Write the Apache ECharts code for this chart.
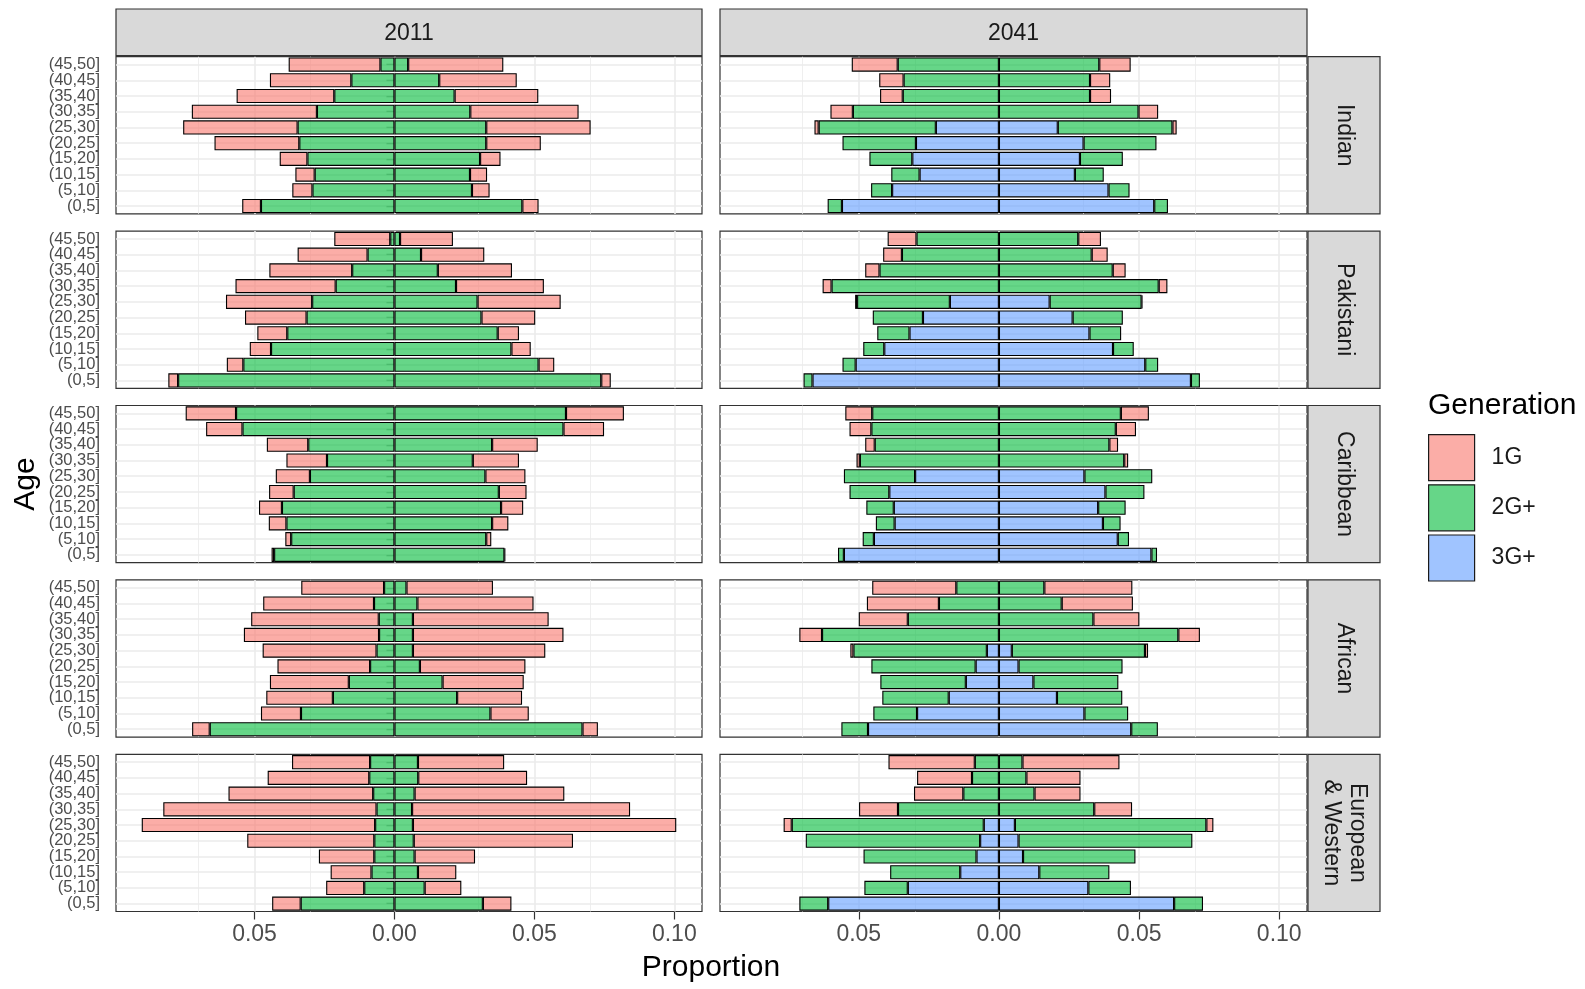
<!DOCTYPE html>
<html>
<head>
<meta charset="utf-8">
<script src="https://cdn.jsdelivr.net/npm/echarts@6/dist/echarts.min.js"></script>
<style>
  html, body { margin: 0; padding: 0; background: #ffffff; }
  #chart { width: 1585px; height: 989px; }
</style>
</head>
<body>
<div id="chart"></div>
<script>
// ---- categories ----
const ages = ['(0,5]', '(5,10]', '(10,15]', '(15,20]', '(20,25]', '(25,30]', '(30,35]', '(35,40]', '(40,45]', '(45,50]'];
const years = ['2011', '2041'];
const groups = ['Indian', 'Pakistani', 'Caribbean', 'African', 'European\n& Western'];
const generations = ['1G', '2G+', '3G+'];
const xTickValues = [-0.05, 0, 0.05, 0.10];
const xGridValues = [-0.075, -0.05, -0.025, 0, 0.025, 0.05, 0.075, 0.10];

// ---- proportions per age band, youngest first; L = left half, R = right half ----
// Indian
const ind11_1G_L  = [0.0067, 0.0072, 0.0069, 0.0099, 0.0303, 0.0409, 0.0447, 0.0349, 0.0291, 0.0328];
const ind11_2G_L  = [0.0477, 0.0293, 0.0285, 0.0311, 0.0340, 0.0346, 0.0277, 0.0215, 0.0154, 0.0050];
const ind11_2G_R  = [0.0457, 0.0277, 0.0270, 0.0306, 0.0328, 0.0328, 0.0271, 0.0215, 0.0160, 0.0049];
const ind11_1G_R  = [0.0058, 0.0063, 0.0061, 0.0073, 0.0195, 0.0373, 0.0387, 0.0299, 0.0277, 0.0340];
const ind41_1G_L  = [0, 0, 0, 0, 0, 0.0015, 0.0080, 0.0081, 0.0087, 0.0164];
const ind41_2G_L  = [0.0051, 0.0075, 0.0101, 0.0153, 0.0262, 0.0418, 0.0521, 0.0343, 0.0340, 0.0361];
const ind41_3G_L  = [0.0560, 0.0381, 0.0283, 0.0309, 0.0296, 0.0225, 0, 0, 0, 0];
const ind41_3G_R  = [0.0554, 0.0391, 0.0271, 0.0289, 0.0302, 0.0210, 0, 0, 0, 0];
const ind41_2G_R  = [0.0049, 0.0075, 0.0103, 0.0153, 0.0260, 0.0409, 0.0498, 0.0325, 0.0325, 0.0358];
const ind41_1G_R  = [0, 0, 0, 0, 0, 0.0015, 0.0070, 0.0075, 0.0072, 0.0112];
// Pakistani
const pak11_1G_L  = [0.0035, 0.0059, 0.0076, 0.0107, 0.0220, 0.0308, 0.0358, 0.0296, 0.0250, 0.0200];
const pak11_2G_L  = [0.0773, 0.0540, 0.0441, 0.0383, 0.0314, 0.0294, 0.0210, 0.0151, 0.0096, 0.0015];
const pak11_2G_R  = [0.0739, 0.0515, 0.0418, 0.0369, 0.0311, 0.0297, 0.0220, 0.0155, 0.0095, 0.0020];
const pak11_1G_R  = [0.0034, 0.0056, 0.0069, 0.0076, 0.0192, 0.0297, 0.0314, 0.0265, 0.0226, 0.0189];
const pak41_1G_L  = [0, 0, 0, 0, 0, 0.0007, 0.0032, 0.0051, 0.0067, 0.0103];
const pak41_2G_L  = [0.0032, 0.0047, 0.0075, 0.0115, 0.0179, 0.0331, 0.0597, 0.0426, 0.0346, 0.0294];
const pak41_3G_L  = [0.0665, 0.0511, 0.0409, 0.0319, 0.0271, 0.0175, 0, 0, 0, 0];
const pak41_3G_R  = [0.0685, 0.0522, 0.0407, 0.0323, 0.0263, 0.0181, 0, 0, 0, 0];
const pak41_2G_R  = [0.0032, 0.0046, 0.0074, 0.0113, 0.0179, 0.0328, 0.0570, 0.0406, 0.0331, 0.0283];
const pak41_1G_R  = [0, 0, 0, 0, 0, 0.0003, 0.0031, 0.0046, 0.0057, 0.0081];
// Caribbean
const car11_1G_L  = [0.0009, 0.0021, 0.0063, 0.0082, 0.0088, 0.0122, 0.0145, 0.0148, 0.0130, 0.0180];
const car11_2G_L  = [0.0430, 0.0369, 0.0386, 0.0402, 0.0360, 0.0302, 0.0241, 0.0308, 0.0543, 0.0566];
const car11_2G_R  = [0.0393, 0.0328, 0.0349, 0.0381, 0.0373, 0.0325, 0.0280, 0.0349, 0.0604, 0.0613];
const car11_1G_R  = [0.0003, 0.0018, 0.0058, 0.0079, 0.0099, 0.0143, 0.0165, 0.0163, 0.0145, 0.0207];
const car41_1G_L  = [0, 0, 0, 0, 0, 0, 0.0012, 0.0034, 0.0078, 0.0096];
const car41_2G_L  = [0.0021, 0.0040, 0.0067, 0.0098, 0.0142, 0.0254, 0.0496, 0.0443, 0.0455, 0.0452];
const car41_3G_L  = [0.0553, 0.0446, 0.0372, 0.0375, 0.0391, 0.0299, 0, 0, 0, 0];
const car41_3G_R  = [0.0544, 0.0424, 0.0371, 0.0354, 0.0380, 0.0305, 0, 0, 0, 0];
const car41_2G_R  = [0.0020, 0.0040, 0.0063, 0.0098, 0.0139, 0.0242, 0.0447, 0.0394, 0.0417, 0.0435];
const car41_1G_R  = [0, 0, 0, 0, 0, 0, 0.0014, 0.0031, 0.0072, 0.0100];
// African
const afr11_1G_L  = [0.0063, 0.0143, 0.0238, 0.0282, 0.0331, 0.0407, 0.0483, 0.0456, 0.0396, 0.0296];
const afr11_2G_L  = [0.0660, 0.0334, 0.0220, 0.0163, 0.0087, 0.0064, 0.0055, 0.0056, 0.0073, 0.0037];
const afr11_2G_R  = [0.0672, 0.0343, 0.0224, 0.0172, 0.0091, 0.0066, 0.0066, 0.0066, 0.0082, 0.0043];
const afr11_1G_R  = [0.0055, 0.0137, 0.0232, 0.0290, 0.0377, 0.0473, 0.0538, 0.0485, 0.0415, 0.0309];
const afr41_1G_L  = [0, 0, 0, 0, 0, 0.0011, 0.0081, 0.0175, 0.0257, 0.0300];
const afr41_2G_L  = [0.0095, 0.0156, 0.0237, 0.0305, 0.0372, 0.0476, 0.0631, 0.0325, 0.0214, 0.0152];
const afr41_3G_L  = [0.0467, 0.0292, 0.0179, 0.0118, 0.0083, 0.0043, 0, 0, 0, 0];
const afr41_3G_R  = [0.0472, 0.0305, 0.0207, 0.0123, 0.0070, 0.0046, 0, 0, 0, 0];
const afr41_2G_R  = [0.0095, 0.0156, 0.0233, 0.0303, 0.0371, 0.0475, 0.0640, 0.0337, 0.0224, 0.0162];
const afr41_1G_R  = [0, 0, 0, 0, 0, 0.0011, 0.0077, 0.0164, 0.0254, 0.0314];
// European & Western
const eur11_1G_L  = [0.0102, 0.0136, 0.0146, 0.0198, 0.0454, 0.0834, 0.0762, 0.0517, 0.0363, 0.0279];
const eur11_2G_L  = [0.0335, 0.0108, 0.0082, 0.0072, 0.0072, 0.0069, 0.0064, 0.0076, 0.0090, 0.0087];
const eur11_2G_R  = [0.0316, 0.0108, 0.0084, 0.0072, 0.0069, 0.0066, 0.0063, 0.0072, 0.0085, 0.0084];
const eur11_1G_R  = [0.0102, 0.0131, 0.0137, 0.0216, 0.0569, 0.0941, 0.0779, 0.0535, 0.0389, 0.0308];
const eur41_1G_L  = [0, 0, 0, 0, 0, 0.0029, 0.0139, 0.0176, 0.0196, 0.0308];
const eur41_2G_L  = [0.0103, 0.0155, 0.0250, 0.0403, 0.0622, 0.0685, 0.0360, 0.0127, 0.0096, 0.0086];
const eur41_3G_L  = [0.0609, 0.0325, 0.0138, 0.0080, 0.0067, 0.0054, 0, 0, 0, 0];
const eur41_3G_R  = [0.0625, 0.0319, 0.0144, 0.0086, 0.0070, 0.0057, 0, 0, 0, 0];
const eur41_2G_R  = [0.0103, 0.0152, 0.0250, 0.0401, 0.0620, 0.0683, 0.0340, 0.0127, 0.0098, 0.0084];
const eur41_1G_R  = [0, 0, 0, 0, 0, 0.0025, 0.0135, 0.0164, 0.0193, 0.0346];

// panel table: [group, year, {generation: [left, right]}]
const panels = [
  [0, 0, { '1G': [ind11_1G_L, ind11_1G_R], '2G+': [ind11_2G_L, ind11_2G_R] }],
  [0, 1, { '1G': [ind41_1G_L, ind41_1G_R], '2G+': [ind41_2G_L, ind41_2G_R], '3G+': [ind41_3G_L, ind41_3G_R] }],
  [1, 0, { '1G': [pak11_1G_L, pak11_1G_R], '2G+': [pak11_2G_L, pak11_2G_R] }],
  [1, 1, { '1G': [pak41_1G_L, pak41_1G_R], '2G+': [pak41_2G_L, pak41_2G_R], '3G+': [pak41_3G_L, pak41_3G_R] }],
  [2, 0, { '1G': [car11_1G_L, car11_1G_R], '2G+': [car11_2G_L, car11_2G_R] }],
  [2, 1, { '1G': [car41_1G_L, car41_1G_R], '2G+': [car41_2G_L, car41_2G_R], '3G+': [car41_3G_L, car41_3G_R] }],
  [3, 0, { '1G': [afr11_1G_L, afr11_1G_R], '2G+': [afr11_2G_L, afr11_2G_R] }],
  [3, 1, { '1G': [afr41_1G_L, afr41_1G_R], '2G+': [afr41_2G_L, afr41_2G_R], '3G+': [afr41_3G_L, afr41_3G_R] }],
  [4, 0, { '1G': [eur11_1G_L, eur11_1G_R], '2G+': [eur11_2G_L, eur11_2G_R] }],
  [4, 1, { '1G': [eur41_1G_L, eur41_1G_R], '2G+': [eur41_2G_L, eur41_2G_R], '3G+': [eur41_3G_L, eur41_3G_R] }]
];

// ---- styling ----
const FONT = "'Liberation Sans', Arial, Helvetica, sans-serif";
const genColors = {
  '1G':  'rgba(248,118,109,0.6)',
  '2G+': 'rgba(0,186,56,0.6)',
  '3G+': 'rgba(97,156,255,0.6)'
};
const colLeft = [116, 720];
const colWidth = [586, 587];
const rowTop = 56.7, rowPitch = 174.4, rowHeight = 157.2;
const stripRightX = 1308, stripRightW = 72;
const stripTopY = 9, stripTopH = 46.5;

const grids = [], xAxes = [], yAxes = [], series = [], graphics = [];

panels.forEach(([g, y, gens], k) => {
  const top = rowTop + g * rowPitch;
  const bottomRow = g === groups.length - 1;
  grids.push({
    left: colLeft[y], top: top, width: colWidth[y], height: rowHeight,
    show: true, backgroundColor: '#ffffff', borderColor: '#333333', borderWidth: 1.2
  });
  xAxes.push({
    gridIndex: k, type: 'value', min: -0.0995, max: 0.1099,
    axisLine: { show: false }, splitLine: { show: false },
    axisTick: { show: bottomRow, customValues: xTickValues, length: 8, lineStyle: { color: '#333333', width: 1.2 } },
    axisLabel: {
      show: bottomRow, customValues: xTickValues, margin: 12,
      fontSize: 23, color: '#4d4d4d', fontFamily: FONT,
      formatter: v => Math.abs(v).toFixed(2)
    }
  });
  yAxes.push({
    gridIndex: k, type: 'category', data: ages,
    axisLine: { show: false }, splitLine: { show: false },
    axisTick: { show: y === 0, interval: 0, alignWithLabel: true, length: 8, lineStyle: { color: '#333333', width: 1.2 } },
    axisLabel: { show: y === 0, interval: 0, hideOverlap: false, margin: 16, fontSize: 16.5, color: '#4d4d4d', fontFamily: FONT }
  });

  // inner to outer: 3G+, 2G+, 1G ; left half negative, right half positive
  let first = true;
  ['3G+', '2G+', '1G'].forEach(gen => {
    if (!gens[gen]) return;
    gens[gen].forEach((vals, side) => {
      const s = {
        type: 'bar', name: gen, xAxisIndex: k, yAxisIndex: k, stack: 'pyr' + k,
        barCategoryGap: '10%', z: 2,
        itemStyle: { color: genColors[gen], borderColor: '#000000', borderWidth: 1.1 },
        data: vals.map(v => v === 0 ? '-' : (side === 0 ? -v : v))
      };
      if (first) {
        // panel grid lines drawn under the bars
        s.markLine = {
          silent: true, symbol: 'none', z: 1, animation: false,
          label: { show: false },
          emphasis: { disabled: true },
          data: xGridValues.map(v => ({
            xAxis: v,
            lineStyle: { color: '#ebebeb', type: 'solid', width: (Math.round(v * 1000) % 50 === 0) ? 1.6 : 0.8 }
          })).concat(ages.map(a => ({
            yAxis: a, lineStyle: { color: '#ebebeb', type: 'solid', width: 1.6 }
          })))
        };
        first = false;
      }
      series.push(s);
    });
  });
});

// column strips (top)
years.forEach((yr, c) => {
  graphics.push({
    type: 'rect', z: 10,
    shape: { x: colLeft[c], y: stripTopY, width: colWidth[c], height: stripTopH },
    style: { fill: '#d9d9d9', stroke: '#333333', lineWidth: 1.2 }
  });
  graphics.push({
    type: 'text', z: 11,
    x: colLeft[c] + colWidth[c] / 2, y: stripTopY + stripTopH / 2 + 1,
    style: { text: yr, fontSize: 23, fontFamily: FONT, fill: '#1a1a1a', align: 'center', verticalAlign: 'middle' }
  });
});
// row strips (right)
groups.forEach((grp, r) => {
  const top = rowTop + r * rowPitch;
  graphics.push({
    type: 'rect', z: 10,
    shape: { x: stripRightX, y: top, width: stripRightW, height: rowHeight },
    style: { fill: '#d9d9d9', stroke: '#333333', lineWidth: 1.2 }
  });
  graphics.push({
    type: 'text', z: 11,
    x: stripRightX + stripRightW / 2, y: top + rowHeight / 2,
    rotation: -Math.PI / 2,
    style: { text: grp, fontSize: 23, lineHeight: 26, fontFamily: FONT, fill: '#1a1a1a', align: 'center', verticalAlign: 'middle' }
  });
});
// axis titles and legend title
graphics.push({
  type: 'text', z: 11, x: 26, y: 484, rotation: Math.PI / 2,
  style: { text: 'Age', fontSize: 30, fontFamily: FONT, fill: '#000000', align: 'center', verticalAlign: 'middle' }
});
graphics.push({
  type: 'text', z: 11, x: 711, y: 968,
  style: { text: 'Proportion', fontSize: 30, fontFamily: FONT, fill: '#000000', align: 'center', verticalAlign: 'middle' }
});
graphics.push({
  type: 'text', z: 11, x: 1428, y: 406,
  style: { text: 'Generation', fontSize: 30, fontFamily: FONT, fill: '#000000', align: 'left', verticalAlign: 'middle' }
});

const chart = echarts.init(document.getElementById('chart'), null, { renderer: 'canvas' });
chart.setOption({
  animation: false,
  backgroundColor: '#ffffff',
  grid: grids,
  xAxis: xAxes,
  yAxis: yAxes,
  series: series,
  legend: {
    data: generations,
    orient: 'vertical',
    left: 1428, top: 434,
    padding: 0,
    itemWidth: 46, itemHeight: 46, itemGap: 3,
    icon: 'rect',
    selectedMode: false,
    itemStyle: { borderColor: '#1a1a1a', borderWidth: 1.2 },
    textStyle: { fontSize: 23, color: '#1a1a1a', fontFamily: FONT, padding: [0, 0, 0, 12] }
  },
  graphic: graphics
});
</script>
</body>
</html>
